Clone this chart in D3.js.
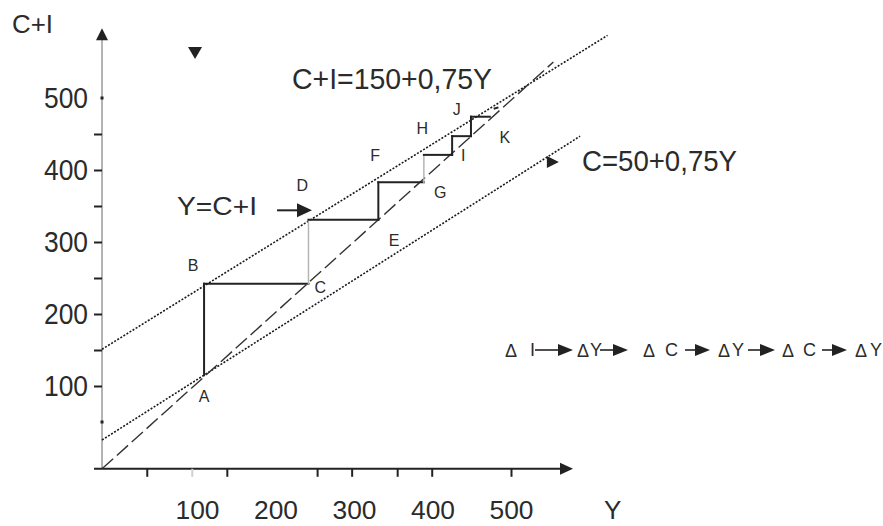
<!DOCTYPE html>
<html>
<head>
<meta charset="utf-8">
<script src="https://cdn.jsdelivr.net/npm/d3@7"></script>
<style>
  body { margin: 0; background: #fff; }
  text { font-family: "Liberation Sans", Arial, sans-serif; fill: #2b2b2b; }
</style>
</head>
<body>
<div id="chart"></div>
<script>
// tick labels and tick marks
var yLabels = [100, 200, 300, 400, 500];
var xLabels = [100, 200, 300, 400, 500];
var yTicks = [100, 150, 200, 250, 300, 350, 400, 450];
var yDots = [50, 500];
var xTicks = [36, 138, 253, 297, 355, 399, 500];
var xFaint = [94];

// lines, [Y, C+I] end points
var lineCI = [[-21, 151], [623, 587]];
var lineC = [[-21, 25], [588, 447]];
var line45 = [[-21, -15], [554, 550]];

// multiplier staircase A -> K
var stairs = [[109,115],[109,242],[242,242],[242,331],[331,331],[331,383],
              [389,383],[389,421],[425,421],[425,447],[449,447],[449,474],[473,474]];
var graySteps = [2, 6];
var stairTail = [[478,485],[484,487]];
var pointNames = ["A","B","C","D","E","F","G","H","I","J","K"];
var pointSpots = [[109,86],[95,268],[257,237],[234,379],[351,303],[327,421],
                  [410,369],[387,458],[439,421],[431,485],[492,446]];

// chain at the bottom right
var chain = ["I", "Y", "C", "Y", "C", "Y"];

var width = 883, height = 526;

var svg = d3.select("#chart")
  .append("svg")
    .attr("width", width)
    .attr("height", height);

var x = d3.scaleLinear().domain([0, 500]).range([118.5, 511]);
var y = d3.scaleLinear().domain([0, 500]).range([458, 98]);

var x0 = x(-21), y0 = y(-15);

var line = d3.line()
  .x(function(d) { return x(d[0]); })
  .y(function(d) { return y(d[1]); });

// axes lines
svg.append("line")
  .attr("x1", x0).attr("x2", x0)
  .attr("y1", y0).attr("y2", y(590))
  .attr("stroke", "#9a9a9a").attr("stroke-width", 1.5);
svg.append("line")
  .attr("x1", x0 - 8).attr("x2", x(566))
  .attr("y1", y0).attr("y2", y0)
  .attr("stroke", "#222").attr("stroke-width", 2);

// arrow heads on the axes
svg.append("path")
  .attr("d", "M" + x0 + "," + (y(597)) + " l-6,12 l12,0 z")
  .attr("fill", "#222");
svg.append("path")
  .attr("d", "M" + x(579) + "," + y0 + " l-13,-6 l0,12 z")
  .attr("fill", "#222");

// y ticks
var yAxis = svg.append("g")
  .attr("transform", "translate(" + x0 + ",0)")
  .call(d3.axisLeft(y).tickValues(yTicks).tickSize(8).tickFormat(""));
yAxis.select(".domain").remove();
yAxis.selectAll("line").attr("stroke", "#222").attr("stroke-width", 2);

svg.selectAll(".ydot")
  .data(yDots)
  .enter().append("rect")
    .attr("x", x0 - 1.5).attr("y", function(d) { return y(d) - 1.5; })
    .attr("width", 3).attr("height", 3).attr("fill", "#222");

var yLab = svg.append("g")
  .attr("transform", "translate(" + x0 + ",0)")
  .call(d3.axisLeft(y).tickValues(yLabels).tickSize(0).tickPadding(14));
yLab.select(".domain").remove();
yLab.selectAll("text")
  .style("font-size", "29px")
  .attr("textLength", 44).attr("lengthAdjust", "spacingAndGlyphs")
  .attr("fill", "#333");

// x ticks
var xAxis = svg.append("g")
  .attr("transform", "translate(0," + y0 + ")")
  .call(d3.axisBottom(x).tickValues(xTicks).tickSize(8).tickFormat(""));
xAxis.select(".domain").remove();
xAxis.selectAll("line").attr("stroke", "#222").attr("stroke-width", 2);

svg.selectAll(".xfaint")
  .data(xFaint)
  .enter().append("line")
    .attr("x1", function(d) { return x(d); }).attr("x2", function(d) { return x(d); })
    .attr("y1", y0).attr("y2", y0 + 8)
    .attr("stroke", "#d0d0d0").attr("stroke-width", 2);

var xLab = svg.append("g")
  .attr("transform", "translate(0," + y0 + ")")
  .call(d3.axisBottom(x).tickValues(xLabels).tickSize(0).tickPadding(32));
xLab.select(".domain").remove();
xLab.selectAll("text")
  .style("font-size", "26px")
  .attr("textLength", 44).attr("lengthAdjust", "spacingAndGlyphs")
  .attr("fill", "#333");

// axis titles
svg.append("text").attr("x", 12).attr("y", 33)
  .style("font-size", "25px").attr("textLength", 41).attr("lengthAdjust", "spacingAndGlyphs")
  .text("C+I");
svg.append("text").attr("x", 604).attr("y", 519)
  .style("font-size", "26px")
  .text("Y");

// the three lines
svg.append("path").datum(lineCI).attr("d", line)
  .attr("fill", "none").attr("stroke", "#1a1a1a").attr("stroke-width", 1.6)
  .attr("stroke-dasharray", "2,1.6");
svg.append("path").datum(lineC).attr("d", line)
  .attr("fill", "none").attr("stroke", "#1a1a1a").attr("stroke-width", 1.6)
  .attr("stroke-dasharray", "2,1.6");
svg.append("path").datum(line45).attr("d", line)
  .attr("fill", "none").attr("stroke", "#333").attr("stroke-width", 1.4)
  .attr("stroke-dasharray", "15,5");

// staircase
svg.selectAll(".step")
  .data(d3.pairs(stairs))
  .enter().append("line")
    .attr("x1", function(d) { return x(d[0][0]); })
    .attr("y1", function(d) { return y(d[0][1]); })
    .attr("x2", function(d) { return x(d[1][0]); })
    .attr("y2", function(d) { return y(d[1][1]); })
    .attr("stroke", function(d, i) { return graySteps.indexOf(i) >= 0 ? "#b5b5b5" : "#222"; })
    .attr("stroke-width", function(d, i) { return graySteps.indexOf(i) >= 0 ? 1.5 : 2; })
    .attr("stroke-linecap", "square");
svg.append("path").datum(stairTail).attr("d", line)
  .attr("stroke", "#222").attr("stroke-width", 2);

// point labels
svg.selectAll(".pt")
  .data(pointNames)
  .enter().append("text")
    .attr("x", function(d, i) { return x(pointSpots[i][0]); })
    .attr("y", function(d, i) { return y(pointSpots[i][1]); })
    .attr("dy", "0.36em")
    .attr("text-anchor", "middle")
    .style("font-size", "16px")
    .text(function(d) { return d; });

// equations
svg.append("text").attr("x", 292).attr("y", 89)
  .style("font-size", "29px").attr("textLength", 200).attr("lengthAdjust", "spacingAndGlyphs")
  .text("C+I=150+0,75Y");
svg.append("text").attr("x", 177).attr("y", 215)
  .style("font-size", "25px").attr("textLength", 80).attr("lengthAdjust", "spacingAndGlyphs")
  .text("Y=C+I");
svg.append("text").attr("x", 582).attr("y", 171)
  .style("font-size", "30px").attr("textLength", 155).attr("lengthAdjust", "spacingAndGlyphs")
  .text("C=50+0,75Y");

// arrow Y=C+I -> D
svg.append("line")
  .attr("x1", x(202)).attr("x2", x(230))
  .attr("y1", y(344)).attr("y2", y(344))
  .attr("stroke", "#222").attr("stroke-width", 2);
svg.append("path")
  .attr("d", "M" + x(246.5) + "," + y(344) + " l-15,-7 l0,14 z")
  .attr("fill", "#222");

// arrow at C line
svg.append("path")
  .attr("d", "M" + x(561) + "," + y(411) + " l-12,-6 l0,12 z")
  .attr("fill", "#222");

// down marker
svg.append("path")
  .attr("d", "M" + (x(97.5) - 7) + "," + y(571) + " l14,0 l-7,12 z")
  .attr("fill", "#222");

// chain  dI -> dY -> dC -> dY -> dC -> dY
var chainDelta = [505, 577, 643, 718, 782, 855];
var chainLetter = [530, 590, 665, 732, 803, 870];
var chainArrow = [[535, 573], [600, 628], [685, 710], [748, 775], [822, 847]];
var chainY = 356;

svg.selectAll(".delta")
  .data(chain)
  .enter().append("text")
    .attr("x", function(d, i) { return chainDelta[i]; })
    .attr("y", chainY + 1)
    .style("font-size", "18px")
    .text("\u0394");
svg.selectAll(".letter")
  .data(chain)
  .enter().append("text")
    .attr("x", function(d, i) { return chainLetter[i]; })
    .attr("y", chainY)
    .style("font-size", "18px")
    .text(function(d) { return d; });
chainArrow.forEach(function(a) {
  svg.append("line")
    .attr("x1", a[0]).attr("x2", a[1] - 12)
    .attr("y1", chainY - 6).attr("y2", chainY - 6)
    .attr("stroke", "#222").attr("stroke-width", 1.6);
  svg.append("path")
    .attr("d", "M" + a[1] + "," + (chainY - 6) + " l-15,-6 l0,12 z")
    .attr("fill", "#222");
});
</script>
</body>
</html>
